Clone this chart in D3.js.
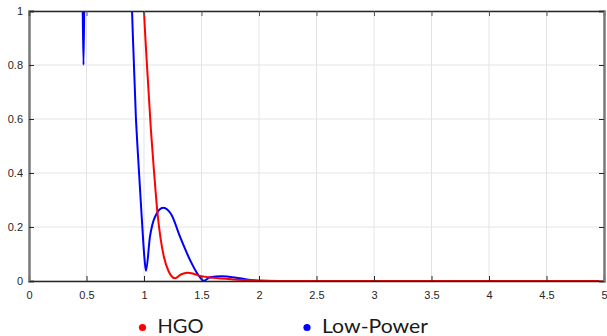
<!DOCTYPE html>
<html>
<head>
<meta charset="utf-8">
<script src="https://cdn.jsdelivr.net/npm/d3@7"></script>
<style>
body { margin:0; background:#fff; }
.tick text { font-family:"Liberation Sans", Arial, sans-serif; font-size:11px; fill:#262626; }
</style>
</head>
<body>
<div id="graph"></div>
<script>
// values
var xTicks = [0, 0.5, 1, 1.5, 2, 2.5, 3, 3.5, 4, 4.5, 5];
var yTicks = [0, 0.2, 0.4, 0.6, 0.8, 1];
var seriesNames = ["HGO", "Low-Power"];

var hgoX = [0.95, 1.0, 1.03, 1.06, 1.09, 1.116, 1.145, 1.174, 1.212, 1.27, 1.32, 1.377, 1.43, 1.487, 1.6, 1.777, 2.0, 2.2, 5];
var hgoY = [1.6, 1.0, 0.77, 0.56, 0.39, 0.257, 0.155, 0.088, 0.038, 0.01, 0.024, 0.031, 0.027, 0.019, 0.012, 0.006, 0.002, 0, 0];

var lpX = [0, 0.455, 0.466, 0.474, 0.481, 0.49, 0.85, 0.896, 0.93, 0.945, 0.98, 1.003, 1.017, 1.052, 1.096, 1.168, 1.24, 1.313, 1.4, 1.472, 1.52, 1.574, 1.675, 1.835, 2.0, 5];
var lpY = [1.6, 1.6, 1.05, 0.8, 1.05, 1.6, 1.6, 1.0, 0.6, 0.485, 0.238, 0.09, 0.038, 0.164, 0.238, 0.271, 0.244, 0.164, 0.078, 0.022, 0.001, 0.014, 0.018, 0.01, 0, 0];

var width = 607, height = 336;
var margin = {left:29, top:11, right:3, bottom:55};
var w = width - margin.left - margin.right;
var h = height - margin.top - margin.bottom;

var svg = d3.select('#graph').append("svg").attr("width", width).attr("height", height);

var x = d3.scaleLinear().domain([0,5]).range([0,w]);
var y = d3.scaleLinear().domain([0,1]).range([h,0]);

var g = svg.append("g").attr("transform","translate("+margin.left+","+margin.top+")");

// grid
g.append("g").selectAll("line").data(xTicks).enter().append("line")
  .attr("x1", x).attr("x2", x).attr("y1", 0).attr("y2", h)
  .attr("stroke", "#e3e3e3").attr("stroke-width", 1);
g.append("g").selectAll("line").data(yTicks).enter().append("line")
  .attr("y1", y).attr("y2", y).attr("x1", 0).attr("x2", w)
  .attr("stroke", "#e3e3e3").attr("stroke-width", 1);

g.append("clipPath").attr("id","clip").append("rect")
  .attr("x",0).attr("y",0).attr("width",w).attr("height",h+1);

var line = d3.line().x(function(d){ return x(d[0]); }).y(function(d){ return y(d[1]); })
  .curve(d3.curveMonotoneX);

var lpData = d3.zip(lpX, lpY);
var hgoData = d3.zip(hgoX, hgoY);

g.append("path").datum(lpData).attr("clip-path","url(#clip)")
  .attr("d", line).attr("fill","none").attr("stroke","#0000ff").attr("stroke-width",2);
g.append("path").datum(hgoData).attr("clip-path","url(#clip)")
  .attr("d", line).attr("fill","none").attr("stroke","#ff0000").attr("stroke-width",2);

// axes, matlab style with inward ticks
var xAxis = d3.axisBottom(x).tickValues(xTicks).tickSize(-5).tickPadding(10).tickFormat(d3.format("~g"));
var yAxis = d3.axisLeft(y).tickValues(yTicks).tickSize(-5).tickPadding(6).tickFormat(d3.format("~g"));

var gx = g.append("g").attr("class","x axis").attr("transform","translate(0,"+h+")").call(xAxis);
var gy = g.append("g").attr("class","y axis").call(yAxis);
gx.select(".domain").attr("stroke","#262626").attr("stroke-width",1.5);
gx.selectAll(".tick line").attr("stroke","#262626");
gy.select(".domain").attr("stroke","#7a7a7a").attr("stroke-width",2.5);
gy.selectAll(".tick line").attr("stroke","#262626");

// top and right box with ticks
var gt = g.append("g").call(d3.axisTop(x).tickValues(xTicks).tickSize(-5).tickFormat(""));
gt.select(".domain").attr("stroke","#262626").attr("stroke-width",1.5);
gt.selectAll(".tick line").attr("stroke","#555");
var gr = g.append("g").attr("transform","translate("+w+",0)").call(d3.axisRight(y).tickValues(yTicks).tickSize(-5).tickFormat(""));
gr.select(".domain").attr("stroke","#7a7a7a").attr("stroke-width",2.5);
gr.selectAll(".tick line").attr("stroke","#262626");

// legend
var legX = [142.5, 307];
var colors = ["#ff0000", "#0000ff"];
var leg = svg.append("g");
seriesNames.forEach(function(n, i){
  leg.append("circle").attr("cx", legX[i]).attr("cy", 327.5).attr("r", 3.6).attr("fill", colors[i]);
  leg.append("text").attr("x", legX[i] + 15).attr("y", 333).text(n)
    .attr("font-family", "Lato, sans-serif").attr("font-size", 19.5)
    .attr("textLength", i == 0 ? 46 : 106).attr("lengthAdjust", "spacingAndGlyphs")
    .attr("fill", "#1a1a1a");
});
</script>
</body>
</html>
